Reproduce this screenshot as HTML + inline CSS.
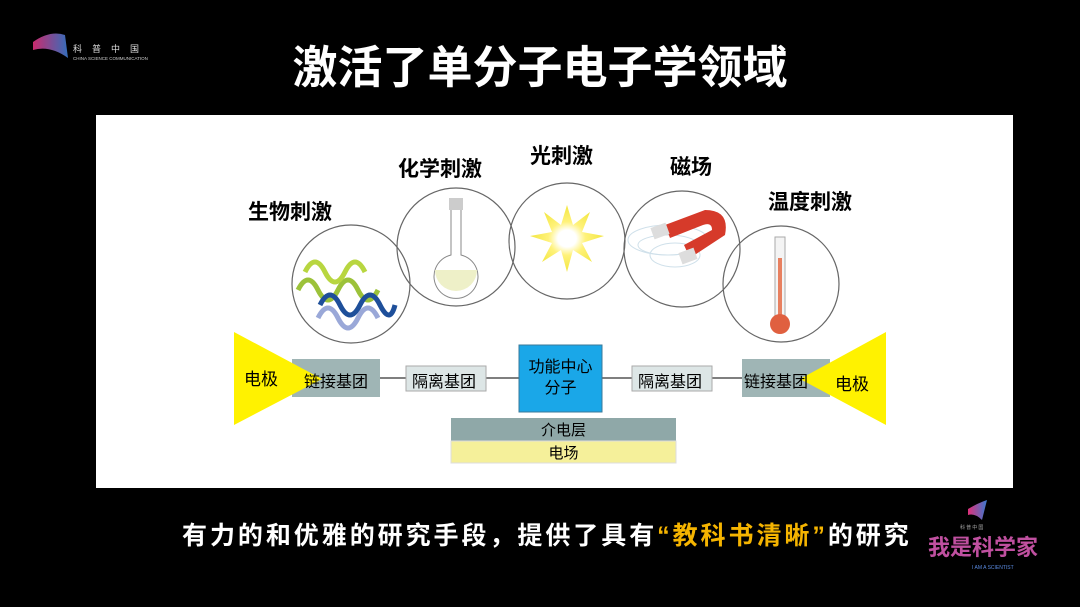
<!DOCTYPE html>
<html><head><meta charset="utf-8"><style>
body{margin:0;width:1080px;height:607px;background:#000;overflow:hidden;position:relative;font-family:"Liberation Sans","Noto Sans CJK SC",sans-serif}
.t{position:absolute;white-space:nowrap}
</style></head><body>
<svg width="1080" height="607" style="position:absolute;left:0;top:0">
<defs>
<linearGradient id="lg" x1="0" x2="1"><stop offset="0" stop-color="#e0307a"/><stop offset="1" stop-color="#3a7ad0"/></linearGradient>
<radialGradient id="st"><stop offset="0.25" stop-color="#fff"/><stop offset="0.5" stop-color="#fff27a"/><stop offset="1" stop-color="#f2e640"/></radialGradient>
</defs>
<path d="M33 42 Q50 30 65 35 L68 58 Q50 45 33 50 Z" fill="url(#lg)" opacity="0.9"/>
<text x="73" y="52" fill="#ddd" font-size="9" letter-spacing="10" font-family="Noto Sans CJK SC">科普中国</text>
<text x="73" y="60" fill="#ccc" font-size="4.5" font-family="Liberation Sans">CHINA SCIENCE COMMUNICATION</text>
<rect x="96" y="115" width="917" height="373" fill="#fff"/>
<g fill="none" stroke="#666" stroke-width="1.2">
<circle cx="351" cy="284" r="59"/><circle cx="456" cy="247" r="59"/><circle cx="567" cy="241" r="58"/><circle cx="682" cy="249" r="58"/><circle cx="781" cy="284" r="58"/>
</g>
<g fill="none" stroke-width="5">
<path d="M298 290 q10 -20 20 0 t20 0 t20 0 t20 0" stroke="#9cc23a"/>
<path d="M305 272 q10 -20 20 0 t20 0 t20 0" stroke="#b8d640"/>
<path d="M320 305 q10 -20 20 0 t20 0 t20 0 t15 0" stroke="#1e4f9a"/>
<path d="M318 318 q10 -20 20 0 t20 0 t20 0" stroke="#9aa8d8"/>
</g>
<rect x="449" y="198" width="14" height="12" fill="#ccc"/>
<path d="M451 210 v45 a22 22 0 1 0 10 0 v-45" fill="none" stroke="#888"/>
<path d="M435 270 a21 21 0 0 0 42 0 Z" fill="#eef0c8"/>
<polygon points="567,205 573,225 590,212 582,232 604,236 582,243 592,262 573,250 567,272 561,250 542,262 552,243 530,236 552,232 544,212 561,225" fill="url(#st)"/>
<g fill="none" stroke="#cfe0ea"><ellipse cx="668" cy="240" rx="40" ry="15"/><ellipse cx="668" cy="245" rx="30" ry="10"/><ellipse cx="675" cy="255" rx="25" ry="12"/></g>
<path d="M665 225 L705 210 Q730 210 725 235 L690 258 L684 245 L712 230 Q712 222 703 225 L670 238 Z" fill="#d63a2a"/>
<rect x="652" y="225" width="16" height="12" fill="#ddd" transform="rotate(-20 660 231)"/>
<rect x="680" y="250" width="16" height="12" fill="#ddd" transform="rotate(-20 688 256)"/>
<rect x="775" y="237" width="10" height="80" fill="#f4f4f4" stroke="#aaa"/>
<rect x="778" y="258" width="4" height="60" fill="#e88060"/>
<circle cx="780" cy="324" r="10" fill="#e06040"/>
<line x1="380" y1="378" x2="742" y2="378" stroke="#333" stroke-width="1.2"/>
<rect x="292" y="359" width="88" height="38" fill="#9fb5b5"/>
<rect x="742" y="359" width="88" height="38" fill="#9fb5b5"/>
<polygon points="234,332 234,425 322,379" fill="#fff200"/>
<polygon points="886,332 886,425 800,379" fill="#fff200"/>
<rect x="406" y="366" width="80" height="25" fill="#dde6e6" stroke="#aaa"/>
<rect x="632" y="366" width="80" height="25" fill="#dde6e6" stroke="#aaa"/>
<rect x="519" y="345" width="83" height="67" fill="#1aa7e8" stroke="#3a7a9a"/>
<rect x="451" y="418" width="225" height="23" fill="#8fa8a8"/>
<rect x="451" y="441" width="225" height="22" fill="#f5f09a" stroke="#ddd"/>
</svg>
<div class="t" style="left:0;width:1080px;text-align:center;top:31px;color:#fff;font-size:45px;font-weight:bold">激活了单分子电子学领域</div>
<div class="t" style="left:248px;top:196px;font-size:21px;font-weight:bold">生物刺激</div>
<div class="t" style="left:398px;top:153px;font-size:21px;font-weight:bold">化学刺激</div>
<div class="t" style="left:530px;top:140px;font-size:21px;font-weight:bold">光刺激</div>
<div class="t" style="left:670px;top:151px;font-size:21px;font-weight:bold">磁场</div>
<div class="t" style="left:768px;top:186px;font-size:21px;font-weight:bold">温度刺激</div>
<div class="t" style="left:244px;top:365px;font-size:17px">电极</div>
<div class="t" style="left:835px;top:370px;font-size:17px">电极</div>
<div class="t" style="left:304px;top:368px;font-size:16px">链接基团</div>
<div class="t" style="left:744px;top:368px;font-size:16px">链接基团</div>
<div class="t" style="left:412px;top:368px;font-size:16px">隔离基团</div>
<div class="t" style="left:638px;top:368px;font-size:16px">隔离基团</div>
<div class="t" style="left:519px;top:357px;width:83px;text-align:center;font-size:16px;line-height:21px">功能中心<br>分子</div>
<div class="t" style="left:451px;top:419px;width:225px;text-align:center;font-size:15px">介电层</div>
<div class="t" style="left:451px;top:442px;width:225px;text-align:center;font-size:15px">电场</div>
<div class="t" style="left:182px;top:516px;color:#fff;font-size:25px;font-weight:bold;letter-spacing:2.95px">有力的和优雅的研究手段，提供了具有<span style="color:#f5b400">“教科书清晰”</span>的研究</div>
<svg width="120" height="80" style="position:absolute;left:920px;top:495px">
<path d="M48 14 Q58 8 67 5 L62 25 Q55 18 48 20 Z" fill="url(#lg)"/>
<text x="40" y="34" fill="#aaa" font-size="5" font-family="Noto Sans CJK SC">科 普 中 国</text>
<text x="8" y="60" fill="#c050a0" font-size="22" font-family="Noto Sans CJK SC" font-weight="bold">我是科学家</text>
<text x="52" y="74" fill="#5a8ae0" font-size="5" font-family="Liberation Sans">I AM A SCIENTIST</text>
</svg>
</body></html>
